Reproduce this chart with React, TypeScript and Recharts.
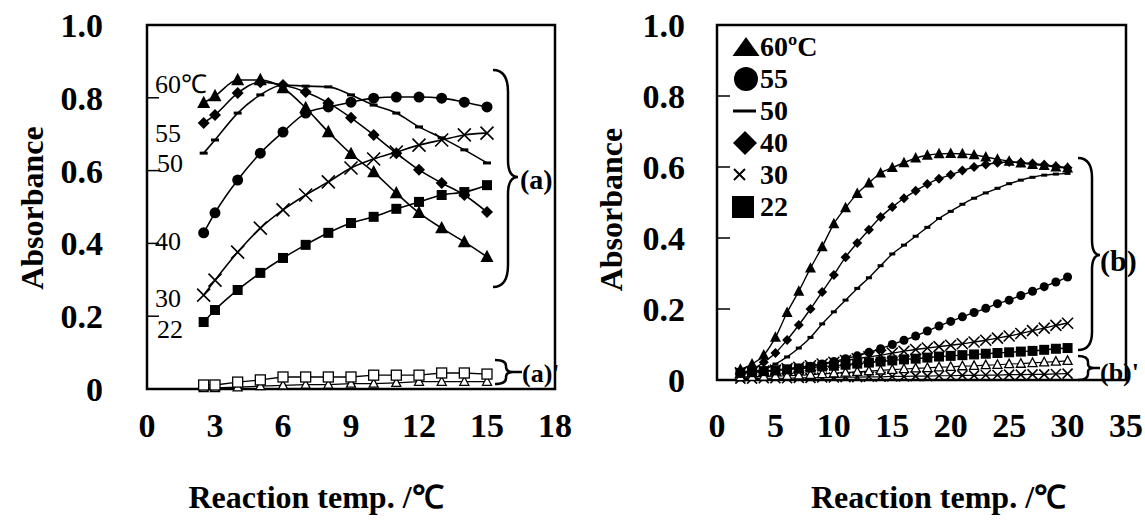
import React from 'react';
import { LineChart, Line, XAxis, YAxis, ReferenceArea, Legend } from 'recharts';

const FONT = '"Liberation Serif", "Times New Roman", Times, serif';

// ---------- Panel (a): left ----------
const tempsA = [2.5, 3, 4, 5, 6, 7, 8, 9, 10, 11, 12, 13, 14, 15];
const a60 = [0.786, 0.805, 0.849, 0.849, 0.827, 0.772, 0.706, 0.646, 0.596, 0.538, 0.484, 0.442, 0.404, 0.363];
const a55 = [0.429, 0.484, 0.574, 0.648, 0.706, 0.758, 0.775, 0.788, 0.799, 0.802, 0.802, 0.799, 0.788, 0.775];
const a50 = [0.648, 0.684, 0.758, 0.808, 0.835, 0.832, 0.83, 0.808, 0.78, 0.758, 0.72, 0.69, 0.657, 0.621];
const a40 = [0.731, 0.753, 0.813, 0.843, 0.835, 0.816, 0.786, 0.745, 0.698, 0.648, 0.602, 0.566, 0.533, 0.486];
const a30 = [0.258, 0.299, 0.376, 0.442, 0.492, 0.533, 0.569, 0.607, 0.632, 0.651, 0.67, 0.684, 0.698, 0.703];
const a22 = [0.184, 0.217, 0.272, 0.319, 0.36, 0.396, 0.429, 0.456, 0.473, 0.495, 0.514, 0.533, 0.541, 0.56];
const aCtrlSquare = [0.011, 0.011, 0.019, 0.025, 0.033, 0.033, 0.033, 0.033, 0.038, 0.038, 0.038, 0.044, 0.044, 0.041];
const aCtrlTri = [0.003, 0.003, 0.005, 0.008, 0.01, 0.012, 0.012, 0.015, 0.015, 0.017, 0.02, 0.02, 0.02, 0.02];
const xTicksA = [0, 3, 6, 9, 12, 15, 18];
const yTicks = [0, 0.2, 0.4, 0.6, 0.8, 1.0];

// ---------- Panel (b): right ----------
const tempsB = [2, 3, 4, 5, 6, 7, 8, 9, 10, 11, 12, 13, 14, 15, 16, 17, 18, 19, 20, 21, 22, 23, 24, 25, 26, 27, 28, 29, 30];
const b60 = [0.03, 0.045, 0.07, 0.12, 0.19, 0.25, 0.315, 0.375, 0.44, 0.485, 0.525, 0.555, 0.583, 0.598, 0.612, 0.625, 0.633, 0.637, 0.638, 0.637, 0.634, 0.628, 0.622, 0.616, 0.611, 0.607, 0.604, 0.6, 0.597];
const b55 = [0.02, 0.022, 0.024, 0.027, 0.03, 0.034, 0.039, 0.045, 0.052, 0.06, 0.068, 0.078, 0.088, 0.1, 0.112, 0.124, 0.138, 0.152, 0.165, 0.178, 0.19, 0.202, 0.215, 0.225, 0.238, 0.25, 0.263, 0.276, 0.29];
const b50 = [0.02, 0.025, 0.03, 0.045, 0.065, 0.09, 0.12, 0.158, 0.192, 0.225, 0.258, 0.288, 0.322, 0.355, 0.38, 0.405, 0.43, 0.455, 0.475, 0.495, 0.512, 0.527, 0.54, 0.553, 0.563, 0.571, 0.577, 0.58, 0.582];
const b40 = [0.02, 0.03, 0.05, 0.076, 0.113, 0.155, 0.2, 0.248, 0.296, 0.346, 0.386, 0.423, 0.459, 0.487, 0.512, 0.533, 0.552, 0.567, 0.578, 0.59, 0.6, 0.607, 0.612, 0.614, 0.613, 0.61, 0.606, 0.602, 0.598];
const b30 = [0.02, 0.022, 0.025, 0.028, 0.032, 0.036, 0.04, 0.045, 0.05, 0.055, 0.06, 0.065, 0.07, 0.076, 0.081, 0.086, 0.09, 0.094, 0.098, 0.102, 0.107, 0.112, 0.118, 0.124, 0.131, 0.139, 0.146, 0.154, 0.16];
const b22 = [0.02, 0.022, 0.025, 0.027, 0.03, 0.032, 0.035, 0.038, 0.04, 0.043, 0.046, 0.049, 0.052, 0.055, 0.058, 0.06, 0.063, 0.066, 0.068, 0.07, 0.072, 0.074, 0.076, 0.078, 0.08, 0.082, 0.085, 0.088, 0.09];
const bCtrlTri = [0.008, 0.009, 0.01, 0.011, 0.012, 0.013, 0.015, 0.017, 0.019, 0.021, 0.023, 0.025, 0.027, 0.029, 0.031, 0.033, 0.034, 0.036, 0.037, 0.039, 0.04, 0.042, 0.043, 0.045, 0.046, 0.048, 0.05, 0.052, 0.054];
const bCtrlCross = [0.004, 0.004, 0.005, 0.005, 0.005, 0.006, 0.006, 0.007, 0.007, 0.008, 0.008, 0.009, 0.009, 0.01, 0.01, 0.011, 0.011, 0.012, 0.012, 0.013, 0.013, 0.014, 0.014, 0.015, 0.015, 0.016, 0.016, 0.017, 0.018];
const xTicksB = [0, 5, 10, 15, 20, 25, 30, 35];

const dataA = tempsA.map((t, i) => ({
  t, s60: a60[i], s55: a55[i], s50: a50[i], s40: a40[i], s30: a30[i], s22: a22[i], cSq: aCtrlSquare[i], cTri: aCtrlTri[i],
}));
const dataB = tempsB.map((t, i) => ({
  t, s60: b60[i], s55: b55[i], s50: b50[i], s40: b40[i], s30: b30[i], s22: b22[i], cTri: bCtrlTri[i], cX: bCtrlCross[i],
}));

type Series = { key: string; name: string; shape: string; size: number; width: number; curve: 'monotone' | 'linear'; legend: boolean };

const seriesA: Series[] = [
  { key: 'cTri', name: "(a)' △", shape: 'triOpen', size: 9, width: 1.3, curve: 'linear', legend: false },
  { key: 'cSq', name: "(a)' □", shape: 'squareOpen', size: 10, width: 1.3, curve: 'linear', legend: false },
  { key: 's22', name: '22', shape: 'square', size: 10, width: 1.6, curve: 'monotone', legend: true },
  { key: 's30', name: '30', shape: 'cross', size: 13, width: 1.6, curve: 'monotone', legend: true },
  { key: 's40', name: '40', shape: 'diamond', size: 12, width: 1.6, curve: 'monotone', legend: true },
  { key: 's50', name: '50', shape: 'dash', size: 8, width: 1.6, curve: 'monotone', legend: true },
  { key: 's55', name: '55', shape: 'circle', size: 11, width: 1.6, curve: 'monotone', legend: true },
  { key: 's60', name: '60℃', shape: 'tri', size: 13, width: 1.6, curve: 'monotone', legend: true },
];

const seriesB: Series[] = [
  { key: 'cX', name: "(b)' ×", shape: 'cross', size: 10, width: 1.2, curve: 'linear', legend: false },
  { key: 'cTri', name: "(b)' △", shape: 'triOpen', size: 9, width: 1.2, curve: 'linear', legend: false },
  { key: 's22', name: '22', shape: 'square', size: 10, width: 1.4, curve: 'monotone', legend: true },
  { key: 's30', name: '30', shape: 'cross', size: 11, width: 1.4, curve: 'monotone', legend: true },
  { key: 's55', name: '55', shape: 'circle', size: 9, width: 1.4, curve: 'monotone', legend: true },
  { key: 's50', name: '50', shape: 'dash', size: 6, width: 1.4, curve: 'monotone', legend: true },
  { key: 's40', name: '40', shape: 'diamond', size: 10, width: 1.4, curve: 'monotone', legend: true },
  { key: 's60', name: '60ºC', shape: 'tri', size: 11, width: 1.4, curve: 'monotone', legend: true },
];
const legendOrderB = ['60ºC', '55', '50', '40', '30', '22'];

function drawShape(shape: string, cx: number, cy: number, s: number) {
  const h = s / 2;
  switch (shape) {
    case 'tri':
      return <polygon points={`${cx},${cy - s * 0.55} ${cx - h},${cy + s * 0.4} ${cx + h},${cy + s * 0.4}`} fill="#000" />;
    case 'triOpen':
      return <polygon points={`${cx},${cy - s * 0.55} ${cx - h},${cy + s * 0.4} ${cx + h},${cy + s * 0.4}`} fill="#fff" stroke="#000" strokeWidth={1.3} />;
    case 'circle':
      return <circle cx={cx} cy={cy} r={h} fill="#000" />;
    case 'dash':
      return <rect x={cx - h} y={cy - 1.5} width={s} height={3} fill="#000" />;
    case 'diamond':
      return <polygon points={`${cx},${cy - h} ${cx + h},${cy} ${cx},${cy + h} ${cx - h},${cy}`} fill="#000" />;
    case 'cross':
      return <path d={`M${cx - h},${cy - h}L${cx + h},${cy + h}M${cx - h},${cy + h}L${cx + h},${cy - h}`} stroke="#000" strokeWidth={1.6} fill="none" />;
    case 'square':
      return <rect x={cx - h} y={cy - h} width={s} height={s} fill="#000" />;
    case 'squareOpen':
      return <rect x={cx - h} y={cy - h} width={s} height={s} fill="#fff" stroke="#000" strokeWidth={1.3} />;
    default:
      return null;
  }
}

const makeDot = (shape: string, size: number) => (props: any) => {
  const { cx, cy, index } = props;
  if (cx == null || cy == null) return <g key={`e-${index}`} />;
  return <g key={`${shape}-${index}`}>{drawShape(shape, cx, cy, size)}</g>;
};

function legendSymbol(shape: string) {
  switch (shape) {
    case 'tri':
      return <polygon points="14,4 0.5,23 27.5,23" fill="#000" />;
    case 'circle':
      return <circle cx={14} cy={14} r={12} fill="#000" />;
    case 'dash':
      return <rect x={1} y={12.5} width={23} height={3} fill="#000" />;
    case 'diamond':
      return <polygon points="13,2 25,14 13,26 1,14" fill="#000" />;
    case 'cross':
      return <path d="M2,8L13,19M2,19L13,8" stroke="#000" strokeWidth={2} />;
    case 'square':
      return <rect x={0} y={3} width={22} height={22} fill="#000" />;
    default:
      return null;
  }
}

const LegendB = (props: any) => {
  const payload: any[] = props.payload || [];
  return (
    <div style={{ fontFamily: FONT }}>
      {legendOrderB.map((name) => {
        const entry = payload.find((p: any) => p.value === name);
        const cfg = seriesB.find((s) => s.name === name);
        if (!entry || !cfg) return null;
        return (
          <div key={name} style={{ display: 'flex', alignItems: 'center', height: 32 }}>
            <svg width={28} height={28} style={{ display: 'block' }}>{legendSymbol(cfg.shape)}</svg>
            <span style={{ fontSize: 28, fontWeight: 700, lineHeight: '32px', color: '#000' }}>{entry.value}</span>
          </div>
        );
      })}
    </div>
  );
};

const tickStyle = { fill: '#000', fontSize: 34, fontWeight: 700, fontFamily: FONT };
const fmtY = (v: number) => (v === 0 ? '0' : v.toFixed(1));

const xTitle = (dx: number, dy: number) => (p: any) => {
  const vb = p.viewBox || { x: 0, y: 0, width: 0, height: 0 };
  const x = vb.x + vb.width / 2 + dx;
  const y = vb.y + dy;
  return (
    <text x={x} y={y} textAnchor="middle" fontFamily={FONT} fontSize={32} fontWeight={700} fill="#000">
      Reaction temp. /℃
    </text>
  );
};

const yTitle = (dx: number, dy: number) => (p: any) => {
  const vb = p.viewBox || { x: 0, y: 0, width: 0, height: 0 };
  const cx = vb.x + dx;
  const cy = vb.y + vb.height / 2 + dy;
  return (
    <text x={cx} y={cy} transform={`rotate(-90, ${cx}, ${cy})`} textAnchor="middle" dominantBaseline="central" fontFamily={FONT} fontSize={32} fontWeight={700} fill="#000">
      Absorbance
    </text>
  );
};

export default function App() {
  return (
    <div style={{ position: 'absolute', left: 0, top: 0, width: 1145, height: 522, background: '#fff', overflow: 'hidden' }}>
      <div style={{ position: 'absolute', left: 0, top: 0 }}>
        <LineChart width={585} height={522} data={dataA} margin={{ top: 25, right: 30, bottom: 0, left: 0 }}>
          <XAxis dataKey="t" type="number" domain={[0, 18]} ticks={xTicksA} interval={0} tickLine={false} axisLine={false} tickSize={0} tickMargin={24} tick={tickStyle} height={133} label={xTitle(-35, 119)} />
          <YAxis type="number" domain={[0, 1]} ticks={yTicks} interval={0} width={147} axisLine={false} tickSize={-12} tickMargin={56} tickLine={{ stroke: '#000', strokeWidth: 1.5 }} tick={tickStyle} tickFormatter={fmtY} label={yTitle(32, 1)} />
          <ReferenceArea x1={0} x2={18} y1={0} y2={1} fill="none" fillOpacity={0} stroke="#000" strokeWidth={2.5} ifOverflow="visible" />
          {seriesA.map((s) => (
            <Line key={s.key} dataKey={s.key} name={s.name} type={s.curve} stroke="#000" strokeWidth={s.width} dot={makeDot(s.shape, s.size)} activeDot={false} isAnimationActive={false} legendType="none" />
          ))}
        </LineChart>
      </div>
      <div style={{ position: 'absolute', left: 560, top: 0 }}>
        <LineChart width={585} height={522} data={dataB} margin={{ top: 25, right: 19, bottom: 0, left: 0 }}>
          <XAxis dataKey="t" type="number" domain={[0, 35]} ticks={xTicksB} interval={0} tickLine={false} axisLine={false} tickSize={0} tickMargin={33} tick={tickStyle} height={142} label={xTitle(17, 128)} />
          <YAxis type="number" domain={[0, 1]} ticks={yTicks} interval={0} width={157} axisLine={false} tickSize={-13} tickMargin={45} tickLine={{ stroke: '#000', strokeWidth: 1.5 }} tick={tickStyle} tickFormatter={fmtY} label={yTitle(51, 7)} />
          <ReferenceArea x1={0} x2={35} y1={0} y2={1} fill="none" fillOpacity={0} stroke="#000" strokeWidth={2.5} ifOverflow="visible" />
          <Legend layout="vertical" align="center" verticalAlign="middle" wrapperStyle={{ left: 172, top: 31 }} content={LegendB} />
          {seriesB.map((s) => (
            <Line key={s.key} dataKey={s.key} name={s.name} type={s.curve} stroke="#000" strokeWidth={s.width} dot={makeDot(s.shape, s.size)} activeDot={false} isAnimationActive={false} legendType={s.legend ? 'line' : 'none'} />
          ))}
        </LineChart>
      </div>
      <svg width={1145} height={522} style={{ position: 'absolute', left: 0, top: 0, pointerEvents: 'none' }}>
        <g fontFamily={FONT} fill="#000" fontSize={26}>
          <text x={155} y={93}>60℃</text>
          <text x={155} y={142}>55</text>
          <text x={157} y={172}>50</text>
          <text x={155} y={250}>40</text>
          <text x={155} y={307}>30</text>
          <text x={157} y={338}>22</text>
        </g>
        <g stroke="#000" strokeWidth={2.5} fill="none">
          <path d="M493,70 Q508,70 508,92 L508,160 Q508,177 518,177 Q508,177 508,194 L508,265 Q508,287 493,287" />
          <path d="M495,360 Q506,360 506,366 L506,367 Q506,372 513,372 Q506,372 506,377 L506,378 Q506,384 495,384 M513,372 L522,372" />
          <path d="M1078,158 Q1092,158 1092,178 L1092,240 Q1092,255 1100,255 Q1092,255 1092,270 L1092,332 Q1092,350 1078,350" />
          <path d="M1078,356 Q1088,356 1088,362 L1088,364 Q1088,368 1094,368 Q1088,368 1088,372 L1088,374 Q1088,380 1078,380 M1094,368 L1100,368" />
        </g>
        <g fontFamily={FONT} fill="#000" fontWeight={700}>
          <text x={520} y={189} fontSize={28}>(a)</text>
          <text x={522} y={382} fontSize={26}>(a)'</text>
          <text x={1100} y={271} fontSize={30}>(b)</text>
          <text x={1100} y={381} fontSize={26}>(b)'</text>
        </g>
      </svg>
    </div>
  );
}
